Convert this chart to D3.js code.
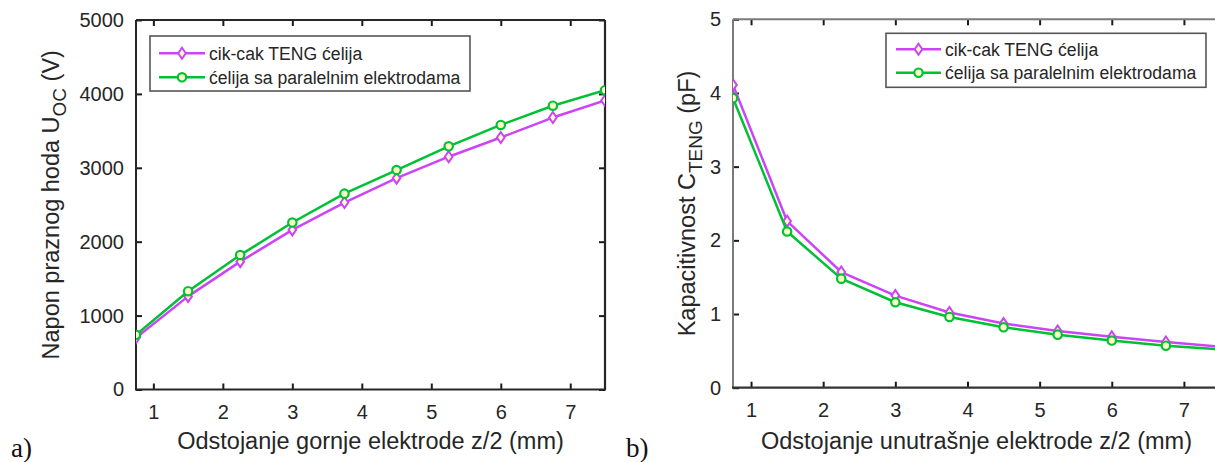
<!DOCTYPE html>
<html>
<head>
<meta charset="utf-8">
<script src="https://cdn.jsdelivr.net/npm/d3@7"></script>
<style>
  html, body { margin: 0; padding: 0; background: #fff; overflow: hidden; }
  svg { display: block; font-family: "Liberation Sans", Arial, sans-serif; }
</style>
</head>
<body>
<svg id="fig" width="1215" height="462"></svg>
<script>
// Half-distance of the electrode, z/2 (mm)
const distance = [0.75, 1.5, 2.25, 3.0, 3.75, 4.5, 5.25, 6.0, 6.75, 7.5];

// Open-circuit voltage U_OC (V)
const voltageZigzag   = [700, 1260, 1730, 2160, 2530, 2860, 3150, 3410, 3680, 3910];
const voltageParallel = [740, 1330, 1820, 2260, 2650, 2970, 3290, 3580, 3840, 4050];

// Capacitance C_TENG (pF)
const capZigzag   = [4.11, 2.26, 1.57, 1.25, 1.02, 0.87, 0.77, 0.69, 0.62, 0.555];
const capParallel = [3.93, 2.12, 1.48, 1.16, 0.96, 0.82, 0.72, 0.64, 0.57, 0.52];

const xTicks = [1, 2, 3, 4, 5, 6, 7];
const voltageTicks = [0, 1000, 2000, 3000, 4000, 5000];
const capTicks = [0, 1, 2, 3, 4, 5];

const seriesNames = ["cik-cak TENG ćelija", "ćelija sa paralelnim elektrodama"];

const MAGENTA = "#cc44f6";
const GREEN = "#00c036";
const MARKER_FILL = "#ffffc4";
const TEXT = "#262626";

const svg = d3.select("#fig");

function diamondPath(cx, cy) {
  return `M${cx},${cy - 5.5}L${cx + 3.8},${cy}L${cx},${cy + 5.5}L${cx - 3.8},${cy}Z`;
}

function drawPanel(opt) {
  const g = svg.append("g");
  const x = d3.scaleLinear().domain([0.75, 7.5]).range([opt.left, opt.right]);
  const y = d3.scaleLinear().domain(opt.yDomain).range([opt.bottom, opt.top]);

  const clipId = "clip" + opt.id;
  svg.append("clipPath").attr("id", clipId)
    .append("rect").attr("x", opt.left).attr("y", opt.top - 10)
    .attr("width", opt.right - opt.left).attr("height", opt.bottom - opt.top + 20);

  // axes with inward ticks
  const axB = d3.axisBottom(x).tickValues(xTicks).tickSizeInner(-6).tickSizeOuter(0).tickPadding(15).tickFormat(d3.format("d"));
  const axT = d3.axisTop(x).tickValues(xTicks).tickSizeInner(-6).tickSizeOuter(0).tickFormat("");
  const axL = d3.axisLeft(y).tickValues(opt.yTicks).tickSizeInner(-6).tickSizeOuter(0).tickPadding(12).tickFormat(d3.format("d"));

  const gb = g.append("g").attr("transform", `translate(0,${opt.bottom})`).call(axB);
  const gt = g.append("g").attr("transform", `translate(0,${opt.top})`).call(axT);
  const gl = g.append("g").attr("transform", `translate(${opt.left},0)`).call(axL);
  [gb, gt, gl].forEach(a => {
    a.select(".domain").remove();
    a.selectAll(".tick line").attr("stroke", "#1a1a1a").attr("stroke-width", 2);
    a.selectAll(".tick text").attr("fill", TEXT).attr("font-size", 20).attr("font-family", "Liberation Sans, Arial, sans-serif");
  });
  if (opt.rightTicks) {
    const axR = d3.axisRight(y).tickValues(opt.yTicks).tickSizeInner(-6).tickSizeOuter(0).tickFormat("");
    const gr = g.append("g").attr("transform", `translate(${opt.right},0)`).call(axR);
    gr.select(".domain").remove();
    gr.selectAll(".tick line").attr("stroke", "#1a1a1a").attr("stroke-width", 2);
  }

  // frame
  g.append("line").attr("x1", opt.left).attr("x2", opt.right).attr("y1", opt.top).attr("y2", opt.top)
    .attr("stroke", opt.frameTop).attr("stroke-width", 2);
  g.append("line").attr("x1", opt.left).attr("x2", opt.left).attr("y1", opt.top).attr("y2", opt.bottom)
    .attr("stroke", opt.frameTop).attr("stroke-width", 2);
  g.append("line").attr("x1", opt.left - 1).attr("x2", opt.right + 1).attr("y1", opt.bottom).attr("y2", opt.bottom)
    .attr("stroke", opt.frameBottom).attr("stroke-width", 2.2);
  if (opt.rightTicks) {
    g.append("line").attr("x1", opt.right).attr("x2", opt.right).attr("y1", opt.top).attr("y2", opt.bottom)
      .attr("stroke", opt.frameBottom).attr("stroke-width", 2.2);
  }

  // series
  const line = d3.line().x((d, i) => x(distance[i])).y(d => y(d));
  const plot = g.append("g").attr("clip-path", `url(#${clipId})`);

  plot.append("path").datum(opt.zigzag).attr("d", line)
    .attr("fill", "none").attr("stroke", MAGENTA).attr("stroke-width", 2.5).attr("stroke-linejoin", "round");
  plot.selectAll(".dia").data(opt.zigzag).join("path")
    .attr("d", (d, i) => diamondPath(x(distance[i]), y(d)))
    .attr("fill", MARKER_FILL).attr("stroke", MAGENTA).attr("stroke-width", 2);

  plot.append("path").datum(opt.parallel).attr("d", line)
    .attr("fill", "none").attr("stroke", GREEN).attr("stroke-width", 2.5).attr("stroke-linejoin", "round");
  plot.selectAll(".circ").data(opt.parallel).join("circle")
    .attr("cx", (d, i) => x(distance[i])).attr("cy", d => y(d)).attr("r", 4.2)
    .attr("fill", MARKER_FILL).attr("stroke", GREEN).attr("stroke-width", 2.2);

  // legend
  const lg = g.append("g");
  lg.append("rect").attr("x", opt.legend.x).attr("y", opt.legend.y)
    .attr("width", opt.legend.w).attr("height", opt.legend.h)
    .attr("fill", "#fff").attr("stroke", "#555").attr("stroke-width", 1.6);
  const rows = [
    { name: seriesNames[0], color: MAGENTA, marker: "diamond", cy: opt.legend.row1 },
    { name: seriesNames[1], color: GREEN, marker: "circle", cy: opt.legend.row2 }
  ];
  rows.forEach(r => {
    const x0 = opt.legend.x + opt.legend.lineStart;
    const x1 = x0 + opt.legend.lineLen;
    const mx = (x0 + x1) / 2;
    lg.append("line").attr("x1", x0).attr("x2", x1).attr("y1", r.cy).attr("y2", r.cy)
      .attr("stroke", r.color).attr("stroke-width", 2.5);
    if (r.marker === "diamond") {
      lg.append("path").attr("d", diamondPath(mx, r.cy)).attr("fill", MARKER_FILL).attr("stroke", r.color).attr("stroke-width", 2);
    } else {
      lg.append("circle").attr("cx", mx).attr("cy", r.cy).attr("r", 4.2).attr("fill", MARKER_FILL).attr("stroke", r.color).attr("stroke-width", 2.2);
    }
    lg.append("text").attr("x", x1 + 4).attr("y", r.cy + 6.3)
      .attr("fill", TEXT).attr("font-size", 17.6).text(r.name);
  });

  // axis titles
  g.append("text").attr("x", (opt.left + opt.right) / 2).attr("y", 449)
    .attr("text-anchor", "middle").attr("fill", TEXT).attr("font-size", 23.5).text(opt.xTitle);

  const yt = g.append("text")
    .attr("transform", `translate(${opt.yTitleX},${(opt.top + opt.bottom) / 2}) rotate(-90)`)
    .attr("text-anchor", "middle").attr("fill", TEXT).attr("font-size", 23.5);
  yt.append("tspan").text(opt.yTitle[0]);
  yt.append("tspan").attr("dy", 7).attr("font-size", 19).text(opt.yTitle[1]);
  yt.append("tspan").attr("dy", -7).text(opt.yTitle[2]);

  // panel tag
  svg.append("text").attr("x", opt.tagX).attr("y", 457)
    .attr("fill", "#111").attr("font-size", 27).attr("font-family", "Liberation Serif, Times New Roman, serif")
    .text(opt.tag);
}

drawPanel({
  id: "a", left: 136, right: 605, top: 20, bottom: 389.5,
  yDomain: [0, 5000], yTicks: voltageTicks,
  zigzag: voltageZigzag, parallel: voltageParallel,
  frameTop: "#262626", frameBottom: "#262626", rightTicks: true,
  legend: { x: 150, y: 36, w: 320, h: 55, row1: 53.3, row2: 77.3, lineStart: 9, lineLen: 46 },
  xTitle: "Odstojanje gornje elektrode z/2 (mm)",
  yTitle: ["Napon praznog hoda U", "OC", " (V)"], yTitleX: 59,
  tag: "a)", tagX: 11
});

drawPanel({
  id: "b", left: 733, right: 1220, top: 19.3, bottom: 387.7,
  yDomain: [0, 5], yTicks: capTicks,
  zigzag: capZigzag, parallel: capParallel,
  frameTop: "#7a7a7a", frameBottom: "#333333", rightTicks: false,
  legend: { x: 886, y: 33.3, w: 320, h: 54, row1: 49.3, row2: 72.7, lineStart: 10, lineLen: 45 },
  xTitle: "Odstojanje unutrašnje elektrode z/2 (mm)",
  yTitle: ["Kapacitivnost C", "TENG", "  (pF)"], yTitleX: 695,
  tag: "b)", tagX: 626
});
</script>
</body>
</html>
